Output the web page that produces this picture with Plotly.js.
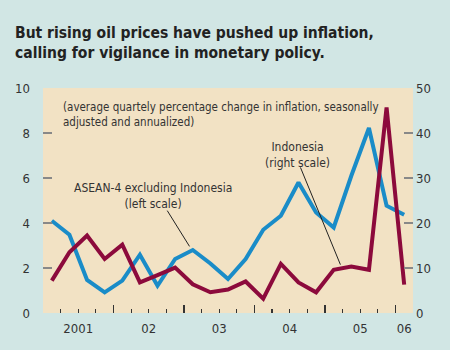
<!DOCTYPE html>
<html>
<head>
<meta charset="utf-8">
<script src="https://cdn.plot.ly/plotly-3.0.1.min.js"></script>
<style>html,body{margin:0;padding:0;background:#d1e6e4;}#chart{width:450px;height:350px;}</style>
</head>
<body>
<div id="chart"></div>
<script>
// Quarter midpoints, 2001Q1 .. 2006Q1
var quarters = [2001.125, 2001.375, 2001.625, 2001.875,
                2002.125, 2002.375, 2002.625, 2002.875,
                2003.125, 2003.375, 2003.625, 2003.875,
                2004.125, 2004.375, 2004.625, 2004.875,
                2005.125, 2005.375, 2005.625, 2005.875,
                2006.125];
// ASEAN-4 excluding Indonesia (left scale)
var asean = [4.10, 3.48, 1.47, 0.92, 1.44, 2.59, 1.21, 2.40, 2.80, 2.20, 1.51,
             2.40, 3.70, 4.32, 5.80, 4.47, 3.80, 6.10, 8.22, 4.77, 4.37];
// Indonesia (right scale)
var indonesia = [7.2, 13.5, 17.2, 12.0, 15.2, 6.8, 8.4, 10.1, 6.4, 4.6, 5.2,
                 7.0, 3.2, 10.9, 6.8, 4.6, 9.6, 10.3, 9.6, 45.7, 6.3];
var yearTicks = [2001, 2002, 2003, 2004, 2005, 2006];
var yearLabelPos = [2001.5, 2002.5, 2003.5, 2004.5, 2005.5, 2006.125];
var yearLabels = ['2001', '02', '03', '04', '05', '06'];
var leftTicks = [0, 2, 4, 6, 8, 10];
var rightTicks = [0, 10, 20, 30, 40, 50];

var FONT = '"Liberation Sans Narrow", "DejaVu Sans Condensed", "Liberation Sans", sans-serif';
var TXT = '#333333';

var traces = [
  {x: quarters, y: asean, type: 'scatter', mode: 'lines', xaxis: 'x', yaxis: 'y',
   line: {color: '#1a8cc8', width: 4}, hoverinfo: 'skip'},
  {x: quarters, y: indonesia, type: 'scatter', mode: 'lines', xaxis: 'x', yaxis: 'y2',
   line: {color: '#8c0a3c', width: 4}, hoverinfo: 'skip'},
  // invisible carrier so the label axis is drawn
  {x: yearLabelPos, y: yearLabelPos.map(function () { return null; }), type: 'scatter', mode: 'none',
   xaxis: 'x2', yaxis: 'y', hoverinfo: 'skip'}
];

var layout = {
  width: 450, height: 350,
  margin: {l: 43, r: 37, t: 88, b: 37},
  paper_bgcolor: '#d1e6e4',
  plot_bgcolor: '#f2e2c4',
  showlegend: false,
  font: {family: FONT, size: 13, color: TXT},
  title: {
    text: '<b>But rising oil prices have pushed up inflation,<br>calling for vigilance in monetary policy.</b>',
    font: {family: FONT, size: 15.5, color: '#222222'},
    x: 15/450, xanchor: 'left', xref: 'container',
    y: 1 - 38/350, yanchor: 'middle', yref: 'container'
  },
  xaxis: {
    range: [2001, 2006.25], tickmode: 'array', tickvals: yearTicks,
    showticklabels: false, ticks: 'inside', ticklen: 8, tickwidth: 1.5, tickcolor: '#333',
    showgrid: false, zeroline: false, showline: false, fixedrange: true,
    minor: {tickmode: 'linear', tick0: 2001, dtick: 0.25, ticks: 'inside', ticklen: 4, tickwidth: 1.2, tickcolor: '#333', showgrid: false}
  },
  xaxis2: {
    overlaying: 'x', anchor: 'y', side: 'bottom',
    range: [2001, 2006.25], tickmode: 'array', tickvals: yearLabelPos, ticktext: yearLabels,
    ticks: '', showgrid: false, zeroline: false, showline: false, showticklabels: true,
    tickfont: {family: FONT, size: 13, color: TXT}, ticklabelstandoff: 6
  },
  yaxis: {
    range: [0, 10], tickmode: 'array', tickvals: leftTicks,
    ticks: 'inside', ticklen: 9, tickwidth: 2, tickcolor: '#888',
    showgrid: false, zeroline: false, showline: false,
    tickfont: {family: FONT, size: 13, color: TXT}, ticklabelstandoff: 12
  },
  yaxis2: {
    overlaying: 'y', side: 'right', anchor: 'x',
    range: [0, 50], tickmode: 'array', tickvals: rightTicks,
    ticks: 'inside', ticklen: 9, tickwidth: 2, tickcolor: '#888',
    showgrid: false, zeroline: false, showline: false,
    tickfont: {family: FONT, size: 13, color: TXT}, ticklabelstandoff: 2
  },
  shapes: [
    {type: 'line', xref: 'x', yref: 'y', x0: 2002.763, y0: 4.55, x1: 2003.079, y1: 2.96,
     line: {color: '#222', width: 1}},
    {type: 'line', xref: 'x', yref: 'y', x0: 2004.653, y0: 6.47, x1: 2005.220, y1: 2.15,
     line: {color: '#222', width: 1}}
  ],
  annotations: [
    {xref: 'x', yref: 'y', x: 2001.26, y: 8.84, xanchor: 'left', yanchor: 'middle', align: 'left',
     showarrow: false, font: {family: FONT, size: 11.5, color: TXT},
     text: '(average quartely percentage change in inflation, seasonally<br>adjusted and annualized)'},
    {xref: 'x', yref: 'y', x: 2002.555, y: 5.18, xanchor: 'center', yanchor: 'middle', align: 'center',
     showarrow: false, font: {family: FONT, size: 12, color: TXT},
     text: 'ASEAN-4 excluding Indonesia<br>(left scale)'},
    {xref: 'x', yref: 'y', x: 2004.617, y: 7.04, xanchor: 'center', yanchor: 'middle', align: 'center',
     showarrow: false, font: {family: FONT, size: 12, color: TXT},
     text: 'Indonesia<br>(right scale)'}
  ]
};

Plotly.newPlot('chart', traces, layout, {staticPlot: true, displayModeBar: false});
</script>
</body>
</html>
